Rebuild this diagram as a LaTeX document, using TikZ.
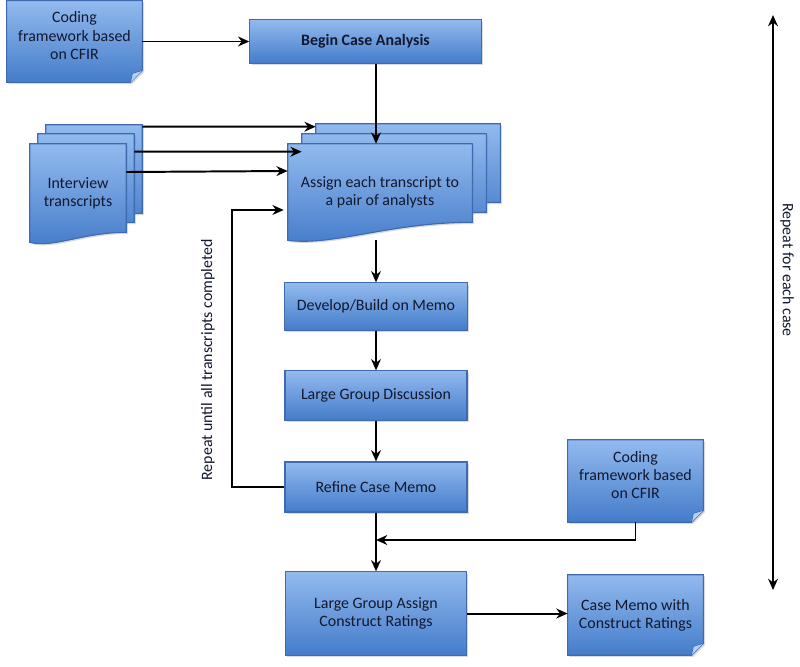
\documentclass[tikz,border=0pt]{standalone}
\usepackage{fontspec}
\setmainfont{Carlito}
\usetikzlibrary{arrows.meta,calc,shadows,backgrounds}

\definecolor{boxtop}{RGB}{146,186,238}
\definecolor{boxbot}{RGB}{68,124,202}
\definecolor{boxline}{RGB}{64,106,176}
\definecolor{boxtext}{RGB}{18,24,46}

\tikzset{
  base/.style={font=\fontsize{11.3}{13}\selectfont, text=boxtext, align=center},
  paint/.style={draw=boxline, line width=0.8pt, top color=boxtop, bottom color=boxbot,
    drop shadow={shadow xshift=1.2pt, shadow yshift=-1.2pt, opacity=0.3}},
  stepbox/.style={base, paint, rectangle, inner sep=2pt},
  docbox/.style={base, rectangle, inner sep=2pt},
  arr/.style={-{Stealth[length=8pt,width=7pt]}, line width=1.4pt},
}

% card with folded corner behind node #1
\newcommand{\card}[1]{%
  \path[paint] (#1.north west) -- (#1.north east) -- ($(#1.south east)+(0,-12)$)
    -- ($(#1.south east)+(-12,0)$) -- (#1.south west) -- cycle;
  \path[draw=boxline, fill=boxtop!70, line width=0.5pt] ($(#1.south east)+(0,-12)$)
    -- ($(#1.south east)+(-10,-9)$) -- ($(#1.south east)+(-12,0)$);
}
% page with wavy foot behind node #1, moved by #2, right end raised by #3
\newcommand{\wave}[3]{%
  \path[paint] ($(#1.north west)+(#2)$) -- ($(#1.north east)+(#2)$) -- ($(#1.south east)+(0,-#3)+(#2)$)
    .. controls ($(#1.south west)!0.55!(#1.south east)+(0,-#3)+(#2)$)
    and ($(#1.south west)!0.25!(#1.south east)+(0,6)+(#2)$) .. ($(#1.south west)+(#2)$) -- cycle;
}

\begin{document}
\begin{tikzpicture}[x=0.025cm, y=-0.025cm]
\useasboundingbox (0,0) rectangle (800,666);

\node[docbox, minimum width=3.38cm, minimum height=2.03cm] (cfir1) at (74.5,41.5) {Coding\\framework based\\on CFIR\\[-4.5pt]};
\node[stepbox, minimum width=5.78cm, minimum height=1.08cm, font=\fontsize{11.3}{13}\selectfont\bfseries] (begin) at (365.5,41.5) {Begin Case Analysis};
\node[docbox, minimum width=2.4cm, minimum height=2.45cm] (itv) at (78,193) {Interview\\transcripts};
\node[docbox, minimum width=4.6cm, minimum height=2.4cm] (asg) at (380,192) {Assign each transcript to\\a pair of analysts};
\node[stepbox, minimum width=4.58cm, minimum height=1.18cm] (develop) at (376,306.5) {Develop/Build on Memo};
\node[stepbox, minimum width=4.55cm, minimum height=1.23cm] (discuss) at (376,395.5) {Large Group Discussion};
\node[stepbox, minimum width=4.55cm, minimum height=1.25cm] (refine) at (376,487) {Refine Case Memo};
\node[docbox, minimum width=3.38cm, minimum height=2.05cm] (cfir2) at (635.5,481) {Coding\\framework based\\on CFIR\\[-4.5pt]};
\node[stepbox, minimum width=4.53cm, minimum height=2.08cm] (lga) at (376,613.5) {Large Group Assign\\Construct Ratings};
\node[docbox, minimum width=3.38cm, minimum height=2.0cm] (memo) at (635.5,615) {Case Memo with\\Construct Ratings};
\node[base, rotate=90] (until) at (208,360) {Repeat until all transcripts completed};
\node[base, rotate=-90] (each) at (787,270) {Repeat for each case};
\coordinate (rtop) at (773,15);
\coordinate (rbot) at (773,590);
\coordinate (jn) at (376,540);

\begin{scope}[on background layer]
\card{cfir1}
\card{cfir2}
\card{memo}
\wave{itv}{16,-19}{10}
\wave{itv}{8,-10}{10}
\wave{itv}{0,0}{10}
\wave{asg}{28,-20}{18}
\wave{asg}{14,-10}{18}
\wave{asg}{0,0}{18}
\end{scope}

\draw[arr] (cfir1.east) -- (begin.west);
\draw[arr] (begin.south -| develop) -- (asg.north -| develop);
\draw[arr] ([shift={(16,-17)}]itv.north east) -- ([shift={(28,-17)}]asg.north west);
\draw[arr] ([shift={(8,8)}]itv.north east) -- ([shift={(14,8)}]asg.north west);
\draw[arr] ([shift={(0,-21)}]itv.east) -- ([shift={(0,-21)}]asg.west);
\draw[arr] (asg.south -| develop) -- (develop);
\draw[arr] (develop) -- (discuss);
\draw[arr] (discuss) -- (refine);
\draw[arr] (refine.west) -- ++(-52,0) |- ([shift={(-4,18)}]asg.west);
\draw[arr] (refine) -- (lga);
\draw[arr] (cfir2.south) |- (jn);
\draw[arr] (lga.east) -- (lga.east -| memo.west);
\draw[{Stealth[length=8pt,width=7pt]}-{Stealth[length=8pt,width=7pt]}, line width=1.4pt] (rtop) -- (rbot);
\end{tikzpicture}
\end{document}
